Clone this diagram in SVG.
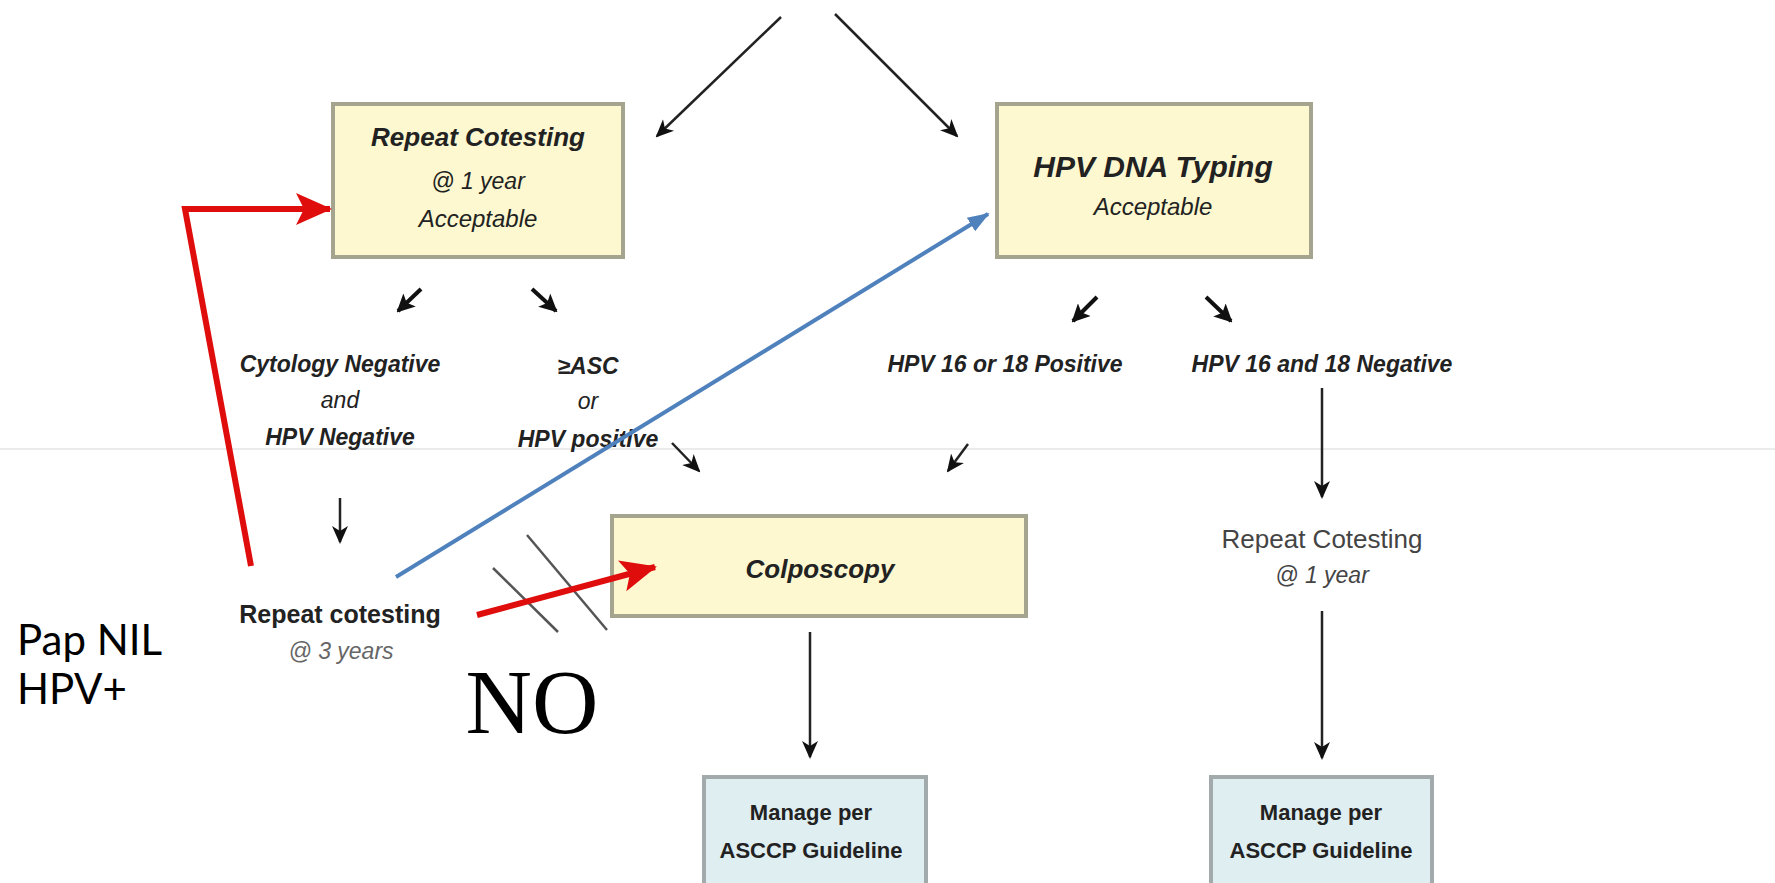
<svg xmlns="http://www.w3.org/2000/svg" width="1775" height="883" viewBox="0 0 1775 883">
<style>
text{font-family:"Liberation Sans",Arial,sans-serif;fill:#222;text-anchor:middle}
.bi{font-weight:bold;font-style:italic}
.i{font-style:italic}
.b{font-weight:bold}
.ybox{fill:#fdf8cf;stroke:#a5a48f;stroke-width:4}
.bbox{fill:#dfeef1;stroke:#a3aaab;stroke-width:4}
.blk{stroke:#222;stroke-width:2.5;fill:none}
.sm{stroke:#111;stroke-width:4;fill:none}
.lbl{font-family:Lato,"Open Sans",sans-serif;fill:#000;text-anchor:start}
</style>
<defs>
<marker id="ahb" markerWidth="18" markerHeight="18" refX="16" refY="9" orient="auto" markerUnits="userSpaceOnUse" viewBox="0 0 18 18">
<path d="M0,1 L18,9 L0,17 L5,9 Z" fill="#111"/>
</marker>
<marker id="ahsm" markerWidth="18" markerHeight="18" refX="16" refY="9" orient="auto" markerUnits="userSpaceOnUse" viewBox="0 0 18 18">
<path d="M0,0 L18,9 L0,18 L4,9 Z" fill="#111"/>
</marker>
<marker id="ahr" markerWidth="36" markerHeight="36" refX="34" refY="18" orient="auto" markerUnits="userSpaceOnUse" viewBox="0 0 36 36">
<path d="M0,2 L36,18 L0,34 L8,18 Z" fill="#e00d0d"/>
</marker>
<marker id="ahblue" markerWidth="22" markerHeight="22" refX="20" refY="11" orient="auto" markerUnits="userSpaceOnUse" viewBox="0 0 22 22">
<path d="M0,3 L22,11 L0,19 Z" fill="#4f81bd"/>
</marker>
</defs>
<rect width="1775" height="883" fill="#fff"/>
<line x1="0" y1="449" x2="1775" y2="449" stroke="#ebebeb" stroke-width="2"/>

<g id="repeat-cotesting-1yr">
<rect class="ybox" x="333" y="104" width="290" height="153"/>
<text class="bi" x="478" y="146" font-size="26">Repeat Cotesting</text>
<text class="i" x="478" y="189" font-size="23">@ 1 year</text>
<text class="i" x="478" y="227" font-size="24">Acceptable</text>
</g>

<g id="hpv-dna-typing">
<rect class="ybox" x="997" y="104" width="314" height="153"/>
<text class="bi" x="1153" y="177" font-size="30">HPV DNA Typing</text>
<text class="i" x="1153" y="215" font-size="24">Acceptable</text>
</g>

<g id="cyto-neg">
<text class="bi" x="340" y="372" font-size="23">Cytology Negative</text>
<text class="i" x="340" y="408" font-size="23">and</text>
<text class="bi" x="340" y="445" font-size="23">HPV Negative</text>
</g>

<g id="asc">
<text class="bi" x="588" y="374" font-size="23">≥ASC</text>
<text class="i" x="588" y="409" font-size="23">or</text>
<text class="bi" x="588" y="447" font-size="23">HPV positive</text>
</g>

<g id="hpv1618pos">
<text class="bi" x="1005" y="372" font-size="23">HPV 16 or 18 Positive</text>
</g>

<g id="hpv1618neg">
<text class="bi" x="1322" y="372" font-size="23">HPV 16 and 18 Negative</text>
</g>

<g id="repeat-cotesting-3yr">
<text class="b" x="340" y="623" font-size="25">Repeat cotesting</text>
<text class="i" x="341" y="659" font-size="23" style="fill:#666">@ 3 years</text>
</g>

<g id="colposcopy">
<rect class="ybox" x="612" y="516" width="414" height="100"/>
<text class="bi" x="820" y="578" font-size="26">Colposcopy</text>
</g>

<g id="repeat-cotesting-right">
<text x="1322" y="548" font-size="26" style="fill:#444">Repeat Cotesting</text>
<text class="i" x="1322" y="583" font-size="23" style="fill:#444">@ 1 year</text>
</g>

<g id="manage-1">
<rect class="bbox" x="704" y="777" width="222" height="120"/>
<text class="b" x="811" y="820" font-size="22">Manage per</text>
<text class="b" x="811" y="858" font-size="22">ASCCP Guideline</text>
</g>

<g id="manage-2">
<rect class="bbox" x="1211" y="777" width="221" height="120"/>
<text class="b" x="1321" y="820" font-size="22">Manage per</text>
<text class="b" x="1321" y="858" font-size="22">ASCCP Guideline</text>
</g>

<g id="pap-nil">
<text class="lbl" x="17" y="655" font-size="42">Pap NIL</text>
<text class="lbl" x="17" y="704" font-size="42">HPV+</text>
</g>

<g id="no">
<text x="532" y="733" font-size="92" style="font-family:'Liberation Serif','Times New Roman',serif;fill:#000">NO</text>
</g>

<g id="connectors">
<line class="blk" x1="781" y1="17" x2="657" y2="136" marker-end="url(#ahb)"/>
<line class="blk" x1="835" y1="14" x2="957" y2="136" marker-end="url(#ahb)"/>
<line class="sm" x1="421" y1="289" x2="398" y2="311" marker-end="url(#ahsm)"/>
<line class="sm" x1="532" y1="289" x2="556" y2="311" marker-end="url(#ahsm)"/>
<line class="sm" x1="1097" y1="297" x2="1073" y2="321" marker-end="url(#ahsm)"/>
<line class="sm" x1="1206" y1="297" x2="1231" y2="321" marker-end="url(#ahsm)"/>
<line class="blk" x1="672" y1="443" x2="699" y2="471" marker-end="url(#ahb)"/>
<line class="blk" x1="968" y1="444" x2="948" y2="471" marker-end="url(#ahb)"/>
<line class="blk" x1="340" y1="498" x2="340" y2="542" marker-end="url(#ahb)"/>
<line class="blk" x1="1322" y1="388" x2="1322" y2="497" marker-end="url(#ahb)"/>
<line class="blk" x1="1322" y1="611" x2="1322" y2="758" marker-end="url(#ahb)"/>
<line class="blk" x1="810" y1="632" x2="810" y2="757" marker-end="url(#ahb)"/>
<line x1="493" y1="568" x2="558" y2="632" stroke="#555" stroke-width="2.5"/>
<line x1="527" y1="535" x2="607" y2="630" stroke="#555" stroke-width="2.5"/>
<polyline points="251,566 185,209 330,209" fill="none" stroke="#e00d0d" stroke-width="6" marker-end="url(#ahr)"/>
<line x1="477" y1="615" x2="655" y2="567" stroke="#e00d0d" stroke-width="6" marker-end="url(#ahr)"/>
<line x1="396" y1="577" x2="988" y2="214" stroke="#4f81bd" stroke-width="4" marker-end="url(#ahblue)"/>
</g>
</svg>
